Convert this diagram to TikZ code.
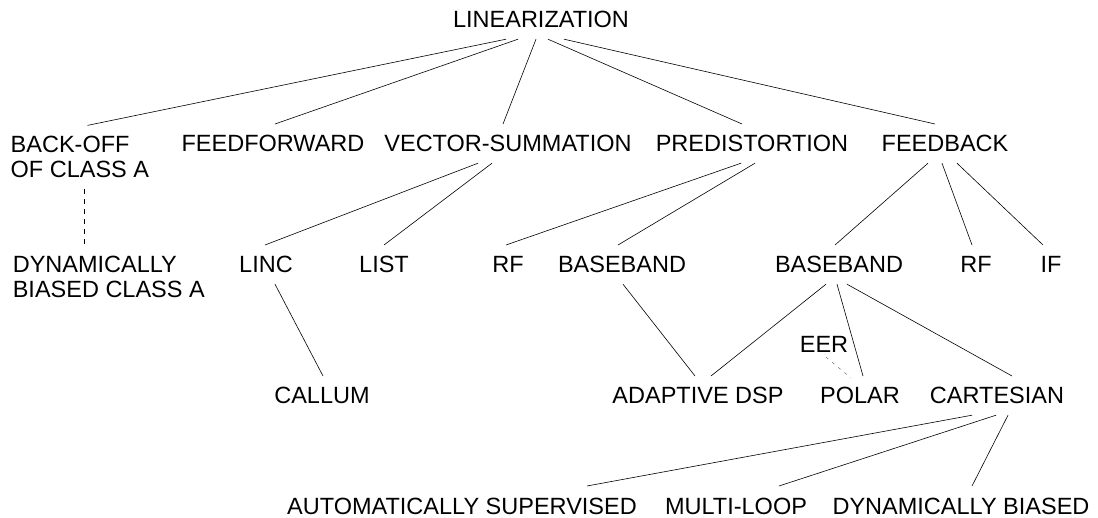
\documentclass[tikz,border=0pt]{standalone}
\usepackage{fontspec}
\setmainfont{Liberation Sans}
\begin{document}
\begin{tikzpicture}[x=1pt,y=1pt,
  lbl/.style={font=\fontsize{23.5}{25}\selectfont, inner xsep=0pt, inner ysep=11pt, text height=16.8pt, text depth=0pt, anchor=base},
  lbltwo/.style={font=\fontsize{23.5}{25}\selectfont, inner xsep=0pt, inner ysep=11pt, align=left, anchor=base west},
  edge/.style={line width=0.6pt},
  dashedge/.style={line width=0.6pt, dash pattern=on 5pt off 5pt},
  eeredge/.style={line width=0.6pt, gray, dash pattern=on 3pt off 5pt}]
\useasboundingbox (0,0) rectangle (1098,-518);
% nodes
\node[lbl] (lin) at (541,-28) {LINEARIZATION};
\node[lbltwo] (bo) at (10.5,-178) {BACK-OFF\\OF CLASS A};
\node[lbl] (ff) at (273,-152) {FEEDFORWARD};
\node[lbl] (vs) at (508,-152) {VECTOR-SUMMATION};
\node[lbl] (pd) at (752,-152) {PREDISTORTION};
\node[lbl] (fb) at (945,-152) {FEEDBACK};
\node[lbltwo] (dca) at (12.6,-298) {DYNAMICALLY\\BIASED CLASS A};
\node[lbl] (linc) at (266,-273) {LINC};
\node[lbl] (list) at (384,-273) {LIST};
\node[lbl] (rfa) at (508,-273) {RF};
\node[lbl] (bba) at (622,-273) {BASEBAND};
\node[lbl] (bbb) at (839,-273) {BASEBAND};
\node[lbl] (rfb) at (976,-273) {RF};
\node[lbl] (ifb) at (1051,-273) {IF};
\node[lbl] (eer) at (824,-353) {EER};
\node[lbl] (cal) at (322,-404) {CALLUM};
\node[lbl] (adsp) at (698,-404) {ADAPTIVE DSP};
\node[lbl] (pol) at (860,-404) {POLAR};
\node[lbl] (cart) at (997,-404) {CARTESIAN};
\node[lbl] (auto) at (462,-514) {AUTOMATICALLY SUPERVISED};
\node[lbl] (ml) at (736,-514) {MULTI-LOOP};
\node[lbl] (dynb) at (961,-514) {DYNAMICALLY BIASED};
% level 1
\draw[edge] ([xshift=-35pt]lin.south) -- ([xshift=77pt]bo.north west);
\draw[edge] ([xshift=-23pt]lin.south) -- ([xshift=2pt]ff.north);
\draw[edge] ([xshift=-5pt]lin.south) -- ([xshift=-5pt]vs.north);
\draw[edge] ([xshift=7pt]lin.south) -- ([xshift=-10pt]pd.north);
\draw[edge] ([xshift=23pt]lin.south) -- ([xshift=-10pt]fb.north);
% level 2
\draw[dashedge] ([xshift=73.5pt]bo.south west) -- ([xshift=71.4pt]dca.north west);
\draw[edge] ([xshift=-30pt]vs.south) -- ([xshift=-1pt]linc.north);
\draw[edge] ([xshift=-16pt]vs.south) -- (list.north);
\draw[edge] ([xshift=-11pt]pd.south) -- ([xshift=-2pt]rfa.north);
\draw[edge] ([xshift=3pt]pd.south) -- ([xshift=-4pt]bba.north);
\draw[edge] ([xshift=-17pt]fb.south) -- ([xshift=-4pt]bbb.north);
\draw[edge] ([xshift=-3pt]fb.south) -- ([xshift=-4pt]rfb.north);
\draw[edge] ([xshift=12pt]fb.south) -- ([xshift=-8pt]ifb.north);
% level 3
\draw[edge] ([xshift=9pt]linc.south) -- ([xshift=1pt]cal.north);
\draw[edge] ([xshift=1pt]bba.south) -- ([xshift=-3pt]adsp.north);
\draw[edge] ([xshift=-13pt]bbb.south) -- ([xshift=13pt]adsp.north);
\draw[edge] ([xshift=-2pt]bbb.south) -- ([xshift=3pt]pol.north);
\draw[edge] ([xshift=8pt]bbb.south) -- ([xshift=15pt]cart.north);
\draw[eeredge] ([xshift=2pt,yshift=7pt]eer.south) -- ([xshift=-9pt,yshift=-2pt]pol.north);
% level 4
\draw[edge] ([xshift=-25pt]cart.south) -- ([xshift=125pt]auto.north);
\draw[edge] ([xshift=-1pt]cart.south) -- ([xshift=43pt]ml.north);
\draw[edge] ([xshift=11pt]cart.south) -- ([xshift=11pt]dynb.north);
\end{tikzpicture}
\end{document}
